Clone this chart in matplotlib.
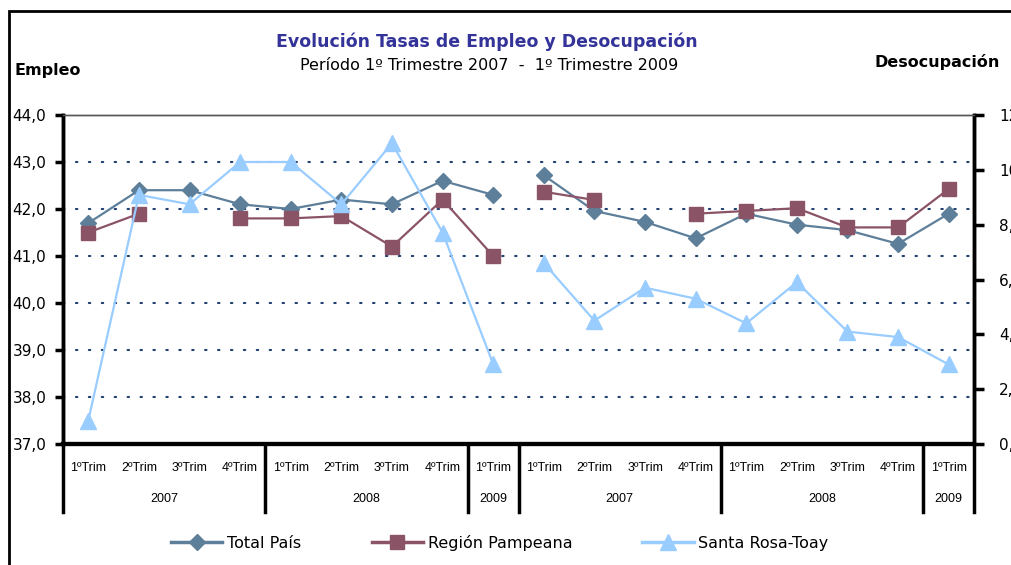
import numpy as np
import matplotlib.pyplot as plt
from matplotlib.lines import Line2D
from matplotlib.patches import Rectangle

plt.rcParams['font.family'] = ['DejaVu Sans']

# categories: 9 quarters for Empleo (left axis) + 9 for Desocupación (right axis)
trim_labels = ["1ºTrim", "2ºTrim", "3ºTrim", "4ºTrim",
               "1ºTrim", "2ºTrim", "3ºTrim", "4ºTrim", "1ºTrim"] * 2
year_labels = ["2007", "2008", "2009", "2007", "2008", "2009"]
year_sizes = [4, 4, 1, 4, 4, 1]

# Tasa de empleo (left axis)
emp_total = [41.7, 42.4, 42.4, 42.1, 42.0, 42.2, 42.1, 42.6, 42.3]
emp_pampeana = [41.5, 41.9, np.nan, 41.8, 41.8, 41.85, 41.2, 42.2, 41.0]
emp_santarosa = [37.5, 42.3, 42.1, 43.0, 43.0, 42.1, 43.4, 41.5, 38.7]

# Tasa de desocupación (right axis)
des_total = [9.8, 8.5, 8.1, 7.5, 8.4, 8.0, 7.8, 7.3, 8.4]
des_pampeana = [9.2, 8.9, np.nan, 8.4, 8.5, 8.6, 7.9, 7.9, 9.3]
des_santarosa = [6.6, 4.5, 5.7, 5.3, 4.4, 5.9, 4.1, 3.9, 2.9]

series_names = ["Total País", "Región Pampeana", "Santa Rosa-Toay"]
colors = ["#5E7F9A", "#8A5466", "#99CCFF"]
markers = ["D", "s", "^"]
msizes = [8, 10, 11]

W, H = 1011, 565
fig = plt.figure(figsize=(W / 100, H / 100), dpi=100)

# outer frame of the chart
fig.patches.append(Rectangle((9 / W, -0.1), 1.2, 1.1 - 11 / H,
                             transform=fig.transFigure, fill=False,
                             edgecolor="black", lw=2))

x0, x1, ytop, ybot = 63, 974, 115, 444
ax = fig.add_axes([x0 / W, 1 - ybot / H, (x1 - x0) / W, (ybot - ytop) / H])
ax2 = ax.twinx()

xl = np.arange(9)
xr = np.arange(9, 18)
left_data = [emp_total, emp_pampeana, emp_santarosa]
right_data = [des_total, des_pampeana, des_santarosa]
for i in range(3):
    ax.plot(xl, left_data[i], color=colors[i], marker=markers[i], ms=msizes[i],
            lw=1.6, zorder=3, clip_on=False)
    ax2.plot(xr, right_data[i], color=colors[i], marker=markers[i], ms=msizes[i],
             lw=1.6, zorder=3, clip_on=False)

ax.set_xlim(-0.5, 17.5)
ax.set_ylim(37, 44)
ax2.set_ylim(0, 12)
ax.set_yticks(np.arange(37, 45, 1))
ax.set_yticklabels([f"{v},0" for v in range(37, 45)], fontsize=11)
ax2.set_yticks(np.arange(0, 13, 2))
ax2.set_yticklabels([f"{v},0" for v in range(0, 13, 2)], fontsize=11)
ax.set_xticks([])

for g in range(38, 45):
    ax.axhline(g, color="#1F3F6F", lw=1.5, ls=(0, (0.7, 5.5)),
               dash_capstyle="round", zorder=1)

for a in (ax, ax2):
    a.spines["top"].set_color("#555555")
    a.spines["top"].set_linewidth(1)
    a.spines["bottom"].set_linewidth(3)
    a.spines["left"].set_linewidth(2.5)
    a.spines["right"].set_linewidth(2.5)
ax.tick_params(axis="y", direction="out", length=6, width=2.5, pad=6)
ax2.tick_params(axis="y", direction="out", length=7, width=2.5, pad=11)

# category axis: quarter labels, year labels and separators
trans = ax.get_xaxis_transform()
sep_bottom = -(512 - ybot) / (ybot - ytop)
for i, lab in enumerate(trim_labels):
    ax.text(i, -(468 - ybot) / (ybot - ytop), lab, transform=trans,
            ha="center", va="center", fontsize=9, family="Liberation Sans")
start = 0
seps = [0]
for lab, n in zip(year_labels, year_sizes):
    ax.text(start + n / 2 - 0.5, -(499 - ybot) / (ybot - ytop), lab,
            transform=trans, ha="center", va="center", fontsize=9,
            family="Liberation Sans")
    start += n
    seps.append(start)
for s in seps:
    ax.add_line(Line2D([s - 0.5, s - 0.5], [0, sep_bottom], transform=trans,
                       color="black", lw=2.5, clip_on=False))

# titles
fig.text(487 / W, 1 - 42 / H, "Evolución Tasas de Empleo y Desocupación",
         ha="center", va="center", fontsize=12.5, fontweight="bold", color="#333399")
fig.text(489 / W, 1 - 65 / H, "Período 1º Trimestre 2007  -  1º Trimestre 2009",
         ha="center", va="center", fontsize=11.5)
fig.text(14 / W, 1 - 70 / H, "Empleo", ha="left", va="center",
         fontsize=11.5, fontweight="bold")
fig.text(1000 / W, 1 - 62 / H, "Desocupación", ha="right", va="center",
         fontsize=11.5, fontweight="bold")

handles = [Line2D([], [], color=colors[i], marker=markers[i], ms=msizes[i], lw=2.5)
           for i in range(3)]
fig.legend(handles, series_names, loc="center", ncol=3, frameon=False,
           bbox_to_anchor=(500 / W, 1 - 543 / H), fontsize=11.5,
           handlelength=3.2, handletextpad=0.3, columnspacing=4.4, numpoints=1)

fig.savefig("out.png", dpi=100)
